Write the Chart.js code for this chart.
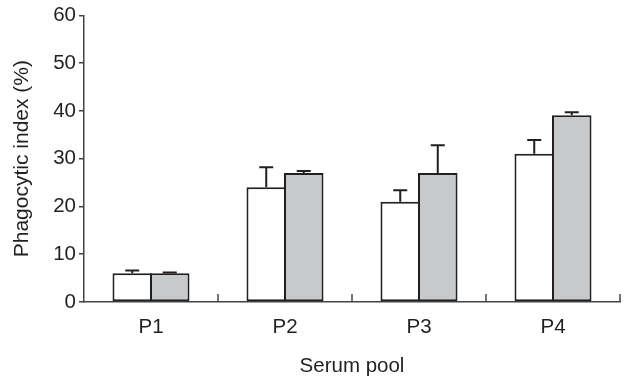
<!DOCTYPE html>
<html>
<head>
<meta charset="utf-8">
<script src="https://cdn.jsdelivr.net/npm/chart.js@4.4.0/dist/chart.umd.min.js"></script>
<style>
  html, body { margin: 0; padding: 0; background: #fff; }
  #wrap { width: 624px; height: 383px; }
</style>
</head>
<body>
<div id="wrap"><canvas id="chart" width="624" height="383"></canvas></div>
<script>
// --- DATA ---
const pools = ['P1', 'P2', 'P3', 'P4'];
const whiteValues = [6, 24, 21, 31];
const whiteErrors = [0.6, 4.2, 2.4, 2.9];
const greyValues = [6, 27, 27, 39.1];
const greyErrors = [0.15, 0.4, 5.8, 0.6];
const yTicks = [0, 10, 20, 30, 40, 50, 60];

const INK = '#231f20';
const FONT = "'Liberation Sans', Arial, sans-serif";

// error bars (upward only) + upward ticks between categories
const errorBars = {
  id: 'errorBars',
  afterDatasetsDraw(chart) {
    const ctx = chart.ctx;
    const y = chart.scales.y;
    const errs = [whiteErrors, greyErrors];
    ctx.save();
    ctx.strokeStyle = INK;
    ctx.lineWidth = 2;
    chart.data.datasets.forEach((ds, di) => {
      const meta = chart.getDatasetMeta(di);
      meta.data.forEach((bar, i) => {
        const top = y.getPixelForValue(ds.data[i]);
        const cap = y.getPixelForValue(ds.data[i] + errs[di][i]);
        ctx.beginPath();
        ctx.moveTo(bar.x, top);
        ctx.lineTo(bar.x, cap);
        ctx.moveTo(bar.x - 7, cap);
        ctx.lineTo(bar.x + 7, cap);
        ctx.stroke();
      });
    });
    // x axis ticks, pointing up, at category boundaries
    const x = chart.scales.x;
    const half = (x.getPixelForValue(1) - x.getPixelForValue(0)) / 2;
    ctx.strokeStyle = '#444';
    ctx.lineWidth = 1.5;
    for (let i = 0; i < pools.length; i++) {
      const px = x.getPixelForValue(i) + half;
      ctx.beginPath();
      ctx.moveTo(px, y.bottom);
      ctx.lineTo(px, y.bottom - 8);
      ctx.stroke();
    }
    ctx.restore();
  }
};

const ctx = document.getElementById('chart').getContext('2d');
new Chart(ctx, {
  type: 'bar',
  data: {
    labels: pools,
    datasets: [{
      label: 'Series 1',
      data: whiteValues,
      backgroundColor: '#ffffff',
      borderColor: INK,
      borderWidth: 2,
      borderSkipped: false
    }, {
      label: 'Series 2',
      data: greyValues,
      backgroundColor: '#c8c9cb',
      borderColor: INK,
      borderWidth: 2,
      borderSkipped: false
    }]
  },
  options: {
    responsive: false,
    animation: false,
    // bars overlap by one border width so the shared edge is a single line
    datasets: { bar: { categoryPercentage: 0.56, barPercentage: 1.053 } },
    layout: { padding: { top: 15, right: 4, left: 0, bottom: 0 } },
    plugins: {
      legend: { display: false },
      tooltip: { enabled: false }
    },
    scales: {
      x: {
        grid: { display: false, drawTicks: false },
        border: { display: true, color: '#444', width: 1.5 },
        ticks: { color: INK, font: { family: FONT, size: 20.5 }, padding: 13 },
        title: {
          display: true, text: 'Serum pool', color: INK,
          font: { family: FONT, size: 20.5 }, padding: { top: 8, bottom: 4 }
        },
        afterFit: s => { s.height = 81; }
      },
      y: {
        min: 0, max: 60,
        afterBuildTicks: s => { s.ticks = yTicks.map(v => ({ value: v })); },
        grid: { drawOnChartArea: false, tickLength: 5, color: '#444', lineWidth: 1.5 },
        border: { display: true, color: '#444', width: 1.5 },
        ticks: { color: INK, font: { family: FONT, size: 20.5 }, padding: 3 },
        title: {
          display: true, text: 'Phagocytic index (%)', color: INK,
          font: { family: FONT, size: 21 }, padding: { top: 10, bottom: 5 }
        },
        afterFit: s => { s.width = 84; }
      }
    }
  },
  plugins: [errorBars]
});
</script>
</body>
</html>
